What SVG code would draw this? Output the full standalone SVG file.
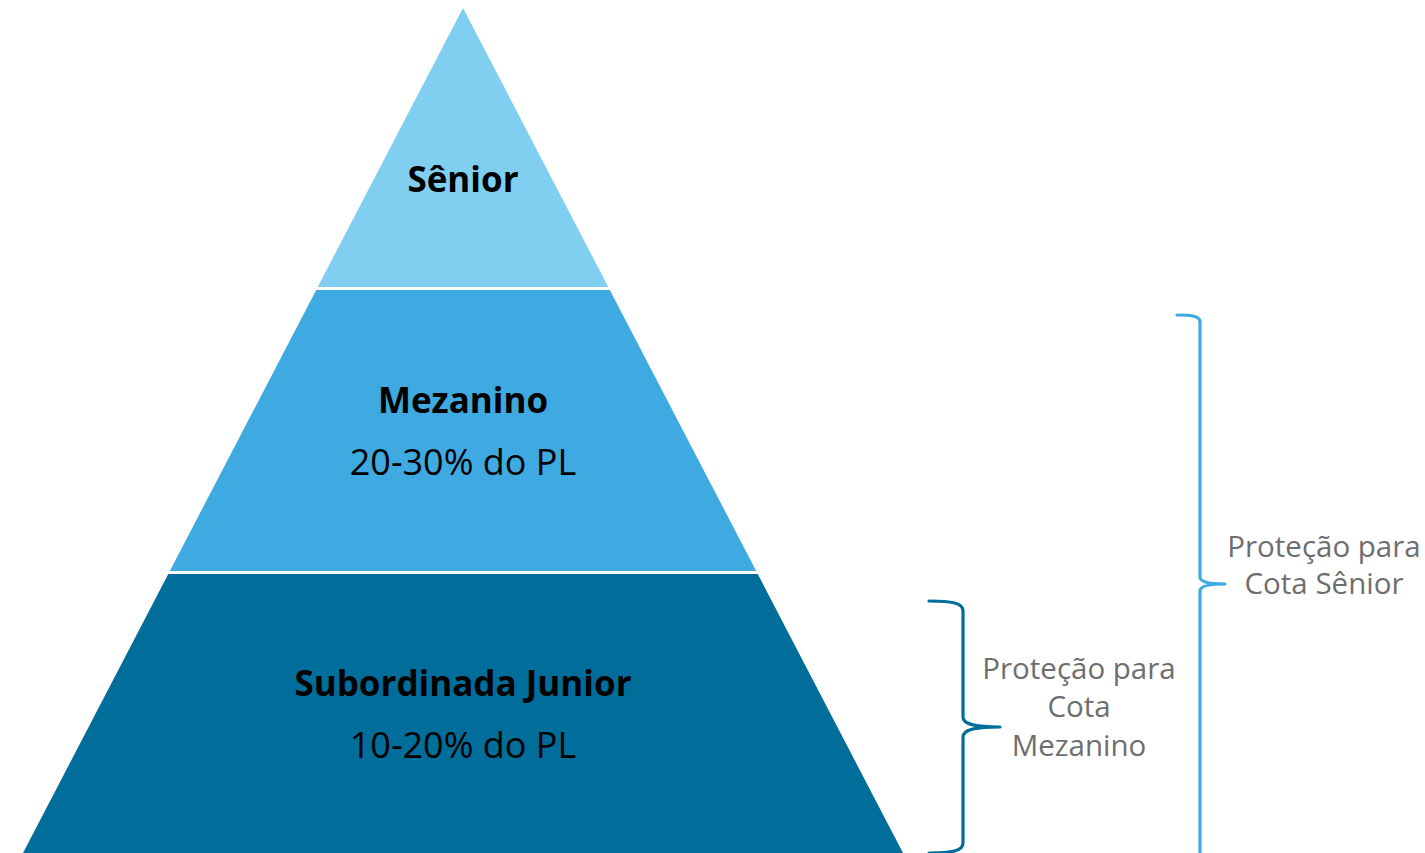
<svg xmlns="http://www.w3.org/2000/svg" width="1425" height="853" viewBox="0 0 1425 853">
<style>
.bold{font-family:"Open Sans","Noto Sans",sans-serif;font-weight:700;font-size:35px;fill:#000;text-anchor:middle}
.reg{font-family:"Open Sans","Noto Sans",sans-serif;font-weight:400;font-size:36px;fill:#000;text-anchor:middle}
.note{font-family:"Open Sans","Noto Sans",sans-serif;font-weight:400;font-size:29.5px;fill:#6e6e6e;text-anchor:middle}
.brace{fill:none;stroke-width:3.2;stroke-linecap:round;stroke-linejoin:round}
</style>
<rect width="1425" height="853" fill="#ffffff"/>
<g id="tier-senior">
<polygon points="463,8 608.3,287 317.7,287" fill="#81cff0"/>
<text class="bold" x="463" y="192">Sênior</text>
</g>
<g id="tier-mezanino">
<polygon points="316.2,290 609.8,290 756.2,571 169.8,571" fill="#3eaae1"/>
<text class="bold" x="463" y="413">Mezanino</text>
<text class="reg" x="463" y="475">20-30% do PL</text>
</g>
<g id="tier-junior">
<polygon points="168.3,574 757.7,574 903,853 23,853" fill="#006d9b"/>
<text class="bold" x="463" y="696">Subordinada Junior</text>
<text class="reg" x="463" y="758">10-20% do PL</text>
</g>
<g id="connectors">
<path class="brace" stroke="#006d9b" d="M929,601 C952,601 963,603 963,611 L963,717 C963,724 974,727 1000,727 C974,727 963,730 963,737 L963,843 C963,851 952,853 929,853"/>
<path class="brace" stroke="#3eaae1" d="M1177,315 C1192,315 1200,316 1200,322 L1200,577 C1200,582 1209,584 1225,584 C1209,584 1200,586 1200,591 L1200,856"/>
</g>
<g id="label-mezanino-protection">
<text class="note" x="1079" y="679">Proteção para</text>
<text class="note" x="1079" y="717">Cota</text>
<text class="note" x="1079" y="756">Mezanino</text>
</g>
<g id="label-senior-protection">
<text class="note" x="1324" y="557">Proteção para</text>
<text class="note" x="1324" y="594">Cota Sênior</text>
</g>
</svg>
